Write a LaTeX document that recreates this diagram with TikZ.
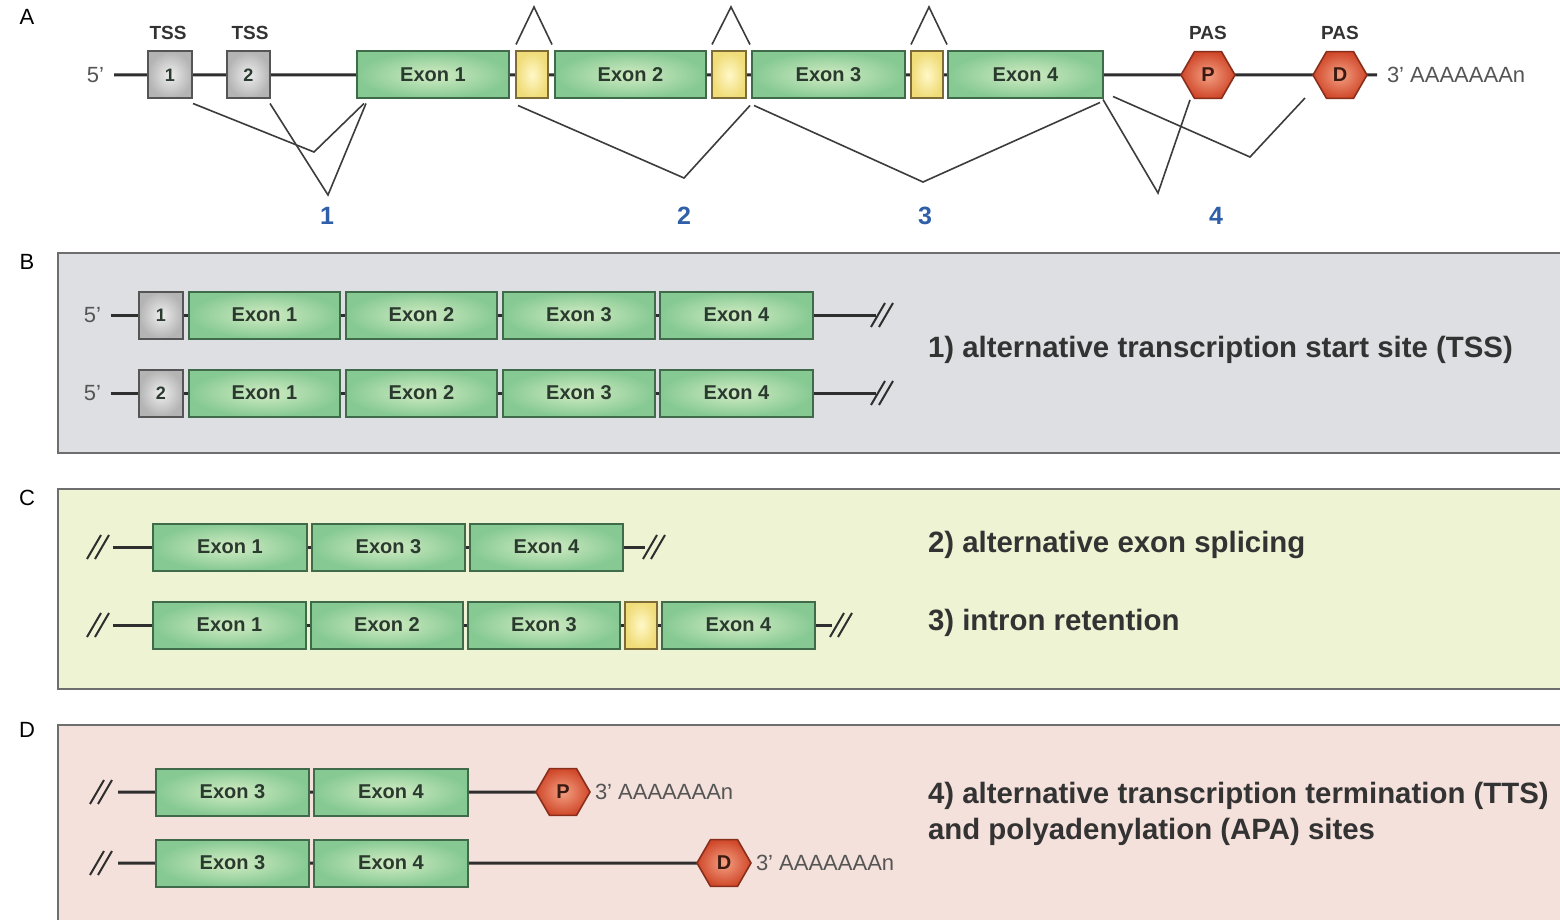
\documentclass[tikz,border=0pt]{standalone}
\usepackage{fontspec}
\setmainfont{Liberation Sans}
\usetikzlibrary{shapes.geometric,calc}
\pgfdeclarelayer{panels}
\pgfdeclarelayer{lines}
\pgfsetlayers{panels,lines,main}
\definecolor{exonIn}{HTML}{D2ECC4}
\definecolor{exonOut}{HTML}{86C993}
\definecolor{exonB}{HTML}{3F6B4A}
\definecolor{exonT}{HTML}{2B3A2E}
\definecolor{yelIn}{HTML}{FFF8C8}
\definecolor{yelOut}{HTML}{F0DC78}
\definecolor{yelB}{HTML}{7D6C35}
\definecolor{grayIn}{HTML}{EEEEEE}
\definecolor{grayOut}{HTML}{B4B4B4}
\definecolor{grayB}{HTML}{555555}
\definecolor{hexIn}{HTML}{F4A083}
\definecolor{hexOut}{HTML}{D0482A}
\definecolor{hexB}{HTML}{8A2E1C}
\definecolor{hexT}{HTML}{3A1A12}
\definecolor{lineC}{HTML}{2E2E2E}
\definecolor{spC}{HTML}{3C3C3C}
\definecolor{numB}{HTML}{2F5FA8}
\definecolor{panB}{HTML}{DEDFE2}
\definecolor{panC}{HTML}{EEF3D3}
\definecolor{panD}{HTML}{F5E1DC}
\definecolor{panBorder}{HTML}{6E6E6E}
\definecolor{txtC}{HTML}{333333}
\definecolor{grayTxt}{HTML}{555555}
\tikzset{
  every node/.style={inner sep=0pt, outer sep=0pt},
  exon/.style={draw=exonB, line width=1pt, shade, inner color=exonIn, outer color=exonOut,
    minimum height=23.5pt, font=\bfseries\fontsize{10}{12}\selectfont, text=exonT},
  intr/.style={draw=yelB, line width=1pt, shade, inner color=yelIn, outer color=yelOut,
    minimum height=23.5pt, minimum width=16pt},
  tssbox/.style={draw=grayB, line width=1pt, shade, inner color=grayIn, outer color=grayOut,
    minimum height=23.5pt, minimum width=22pt, font=\bfseries\fontsize{9}{11}\selectfont, text=exonT},
  hexa/.style={regular polygon, regular polygon sides=6, draw=hexB, line width=0.8pt, shade,
    inner color=hexIn, outer color=hexOut, minimum size=27pt,
    font=\bfseries\fontsize{10}{12}\selectfont, text=hexT},
  bb/.style={line width=1.5pt, draw=lineC},
  splice/.style={line width=0.8pt, draw=spC},
  endtxt/.style={font=\fontsize{11}{13}\selectfont, text=grayTxt, inner xsep=5pt},
  toplbl/.style={font=\bfseries\fontsize{9.5}{11}\selectfont, text=txtC},
  numlbl/.style={font=\bfseries\fontsize{12.5}{14}\selectfont, text=numB},
  panlbl/.style={font=\fontsize{11}{13}\selectfont, text=black},
  desc/.style={anchor=west, align=left, font=\bfseries\fontsize{14.7}{18}\selectfont, text=txtC},
  panel/.style={draw=panBorder, line width=0.8pt},
  brk/.pic={\draw[line width=1pt, lineC] (-13,12) -- (1,-12) (-5,12) -- (9,-12);}
}
\begin{document}
\begin{tikzpicture}[x=0.5pt, y=-0.5pt]
\useasboundingbox (0,0) rectangle (1560,920);
\begin{pgfonlayer}{panels}
\fill[white] (0,0) rectangle (1560,920);
\draw[panel, fill=panB] (58,253) rectangle (1570,453);
\draw[panel, fill=panC] (58,489) rectangle (1570,689);
\draw[panel, fill=panD] (58,725) rectangle (1570,930);
\end{pgfonlayer}
% panel letters
\node[panlbl] (lA) at (27,17) {A};
\node[panlbl] (lB) at (27,262) {B};
\node[panlbl] (lC) at (27,498) {C};
\node[panlbl] (lD) at (27,730) {D};

% ===== Panel A =====
\node[endtxt, anchor=east] (a5) at (114,75) {5’};
\node[tssbox] (at1) at (170,75) {1};
\node[tssbox, minimum width=21.5pt] (at2) at (248.5,75) {2};
\node[exon, minimum width=76pt] (ae1) at (433,75) {Exon 1};
\node[intr] (ay1) at (532,75) {};
\node[exon, minimum width=75.5pt] (ae2) at (630.5,75) {Exon 2};
\node[intr, minimum width=17pt] (ay2) at (729,75) {};
\node[exon, minimum width=76.5pt] (ae3) at (828.5,75) {Exon 3};
\node[intr] (ay3) at (927,75) {};
\node[exon, minimum width=77.5pt] (ae4) at (1025.5,75) {Exon 4};
\node[hexa] (aP) at (1208,75) {P};
\node[hexa] (aD) at (1340,75) {D};
\node[endtxt, anchor=west] (aT) at (1377,75) {3’ AAAAAAAn};
\node[toplbl] (ts1) at (168,33) {TSS};
\node[toplbl] (ts2) at (250,33) {TSS};
\node[toplbl] (pas1) at (1208,33) {PAS};
\node[toplbl] (pas2) at (1340,33) {PAS};
\begin{pgfonlayer}{lines}
\draw[bb] (a5.east) -- (at1) -- (at2) -- (ae1) -- (ay1) -- (ae2) -- (ay2) -- (ae3) -- (ay3) -- (ae4) -- (aP) -- (aD) -- (aT.west);
\end{pgfonlayer}
% splice lines
\coordinate (v1a) at (314,152);
\coordinate (v1b) at (328,195);
\coordinate (v2) at (684,178);
\coordinate (v3) at (923,182);
\coordinate (v4a) at (1158,193);
\coordinate (v4b) at (1250,157);
\coordinate (c1) at (534,7);
\coordinate (c2) at (731,7);
\coordinate (c3) at (929,7);
\draw[splice] ($(at1.south east)+(1,5)$) -- (v1a) -- ($(ae1.south west)+(7,5)$);
\draw[splice] ($(at2.south east)+(0,5)$) -- (v1b) -- ($(ae1.south west)+(9,5)$);
\draw[splice] ($(ay1.south west)+(2,7)$) -- (v2) -- ($(ay2.south east)+(4,7)$);
\draw[splice] ($(ay2.south east)+(8,7)$) -- (v3) -- ($(ae4.south east)+(-3,4)$);
\draw[splice] ($(ae4.south east)+(0,1)$) -- (v4a) -- ($(aP.west)+(9,25)$);
\draw[splice] ($(ae4.south east)+(10,-2)$) -- (v4b) -- ($(aD.west)+(-8,23)$);
\draw[splice] ($(ay1.north west)+(0,-7)$) -- (c1) -- ($(ay1.north east)+(4,-7)$);
\draw[splice] ($(ay2.north west)+(0,-7)$) -- (c2) -- ($(ay2.north east)+(4,-7)$);
\draw[splice] ($(ay3.north west)+(0,-7)$) -- (c3) -- ($(ay3.north east)+(4,-7)$);
\node[numlbl] (n1) at (327,216) {1};
\node[numlbl] (n2) at (684,216) {2};
\node[numlbl] (n3) at (925,216) {3};
\node[numlbl] (n4) at (1216,216) {4};

% ===== Panel B =====
\foreach \r/\y in {1/315, 2/393}{
  \node[endtxt, anchor=east] (b5\r) at (111,\y) {5’};
  \coordinate (bend\r) at (876,\y);
  \node[tssbox] (bt\r) at (161,\y) {\r};
  \node[exon, minimum width=75.5pt] (be1\r) at (264.5,\y) {Exon 1};
  \node[exon, minimum width=75.5pt] (be2\r) at (421.5,\y) {Exon 2};
  \node[exon, minimum width=76pt] (be3\r) at (579,\y) {Exon 3};
  \node[exon, minimum width=76.5pt] (be4\r) at (736.5,\y) {Exon 4};
  \begin{pgfonlayer}{lines}
  \draw[bb] (b5\r.east) -- (bt\r) -- (be1\r) -- (be2\r) -- (be3\r) -- (be4\r) -- (bend\r);
  \end{pgfonlayer}
  \pic at (884,\y) {brk};
}
\node[desc] (dB) at (928,350) {1) alternative transcription start site (TSS)};

% ===== Panel C =====
\coordinate (cs1) at (113,547);
\coordinate (cend1) at (645,547);
\node[exon, minimum width=77pt] (ce11) at (230,547) {Exon 1};
\node[exon, minimum width=76.5pt] (ce31) at (388.5,547) {Exon 3};
\node[exon, minimum width=76.5pt] (ce41) at (546.5,547) {Exon 4};
\coordinate (cs2) at (113,625);
\coordinate (cend2) at (832,625);
\node[exon, minimum width=76.5pt] (ce12) at (229.5,625) {Exon 1};
\node[exon, minimum width=76pt] (ce22) at (387,625) {Exon 2};
\node[exon, minimum width=76pt] (ce32) at (544,625) {Exon 3};
\node[intr] (cy2) at (641,625) {};
\node[exon, minimum width=76.5pt] (ce42) at (738.5,625) {Exon 4};
\begin{pgfonlayer}{lines}
\draw[bb] (cs1) -- (ce11) -- (ce31) -- (ce41) -- (cend1);
\draw[bb] (cs2) -- (ce12) -- (ce22) -- (ce32) -- (cy2) -- (ce42) -- (cend2);
\end{pgfonlayer}
\pic at (100,547) {brk};
\pic at (656,547) {brk};
\pic at (100,625) {brk};
\pic at (843,625) {brk};
\node[desc] (dC1) at (928,545) {2) alternative exon splicing};
\node[desc] (dC2) at (928,623) {3) intron retention};

% ===== Panel D =====
\coordinate (ds1) at (118,792);
\node[exon, minimum width=76.5pt] (de31) at (232.5,792) {Exon 3};
\node[exon, minimum width=77pt] (de41) at (391,792) {Exon 4};
\node[hexa] (dP) at (563,792) {P};
\node[endtxt, anchor=west] (dT1) at (585,792) {3’ AAAAAAAn};
\coordinate (ds2) at (118,863);
\node[exon, minimum width=76.5pt] (de32) at (232.5,863) {Exon 3};
\node[exon, minimum width=77pt] (de42) at (391,863) {Exon 4};
\node[hexa] (dD) at (724,863) {D};
\node[endtxt, anchor=west] (dT2) at (746,863) {3’ AAAAAAAn};
\begin{pgfonlayer}{lines}
\draw[bb] (ds1) -- (de31) -- (de41) -- (dP);
\draw[bb] (ds2) -- (de32) -- (de42) -- (dD);
\end{pgfonlayer}
\pic at (103,792) {brk};
\pic at (103,863) {brk};
\node[desc] (dD1) at (928,814) {4) alternative transcription termination (TTS)\\and polyadenylation (APA) sites};
\end{tikzpicture}
\end{document}
